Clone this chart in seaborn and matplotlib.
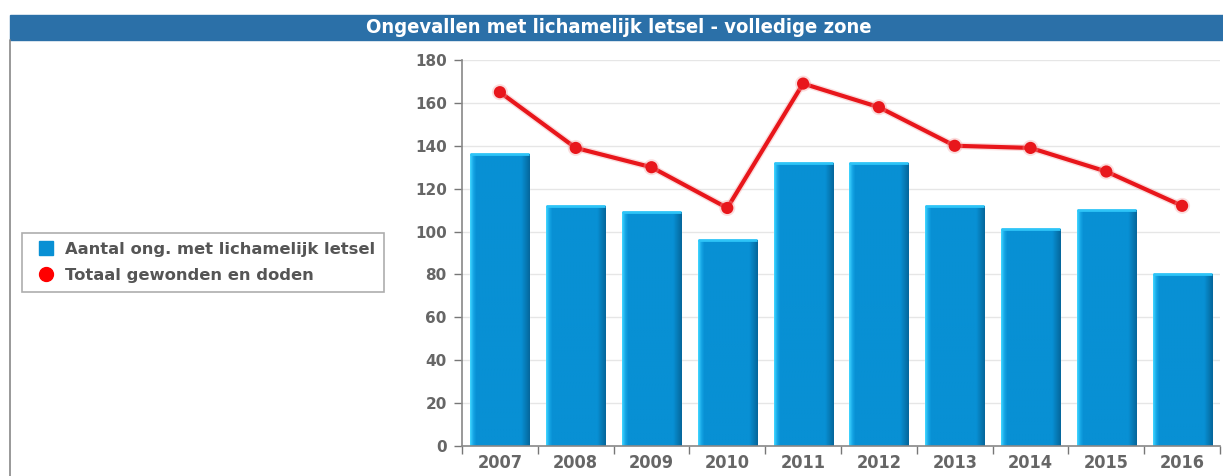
import numpy as np
import matplotlib
matplotlib.use("Agg")
import matplotlib.pyplot as plt
import matplotlib.patheffects as pe
from matplotlib.colors import LinearSegmentedColormap
from matplotlib.patches import Rectangle
from matplotlib.lines import Line2D
import seaborn as sns

# data
years = ['2007', '2008', '2009', '2010', '2011', '2012', '2013', '2014', '2015', '2016']
ongevallen = [136, 112, 109, 96, 132, 132, 112, 101, 110, 80]
gewonden = [165, 139, 130, 111, 169, 158, 140, 139, 128, 112]
title = 'Ongevallen met lichamelijk letsel - volledige zone'
label_bar = 'Aantal ong. met lichamelijk letsel'
label_line = 'Totaal gewonden en doden'

sns.set_style('white')
plt.rcParams['font.family'] = ['DejaVu Sans']

fig = plt.figure(figsize=(12.23, 4.76), dpi=100)
ax = fig.add_axes([462 / 1223, 1 - 446 / 476, (1220 - 462) / 1223, (446 - 60) / 476])

sns.barplot(x=years, y=ongevallen, color='#0890d4', width=0.78, saturation=1, ax=ax, zorder=2)
sns.pointplot(x=years, y=gewonden, color='#e8161b', markers='o', markersize=6.5,
              linewidth=3, ax=ax, zorder=4)
for ln in ax.lines:
    ln.set_path_effects([pe.Stroke(linewidth=5, foreground='#f4a0a0', alpha=0.35), pe.Normal()])

# bar shading: light left edge, darker right edge
cmap = LinearSegmentedColormap.from_list('bar', [(0, '#3fd4ff'), (0.05, '#16a6e6'), (0.1, '#0890d4'),
                                                  (0.86, '#0890d4'), (1, '#05679c')])
grad = np.linspace(0, 1, 100).reshape(1, -1)
for p in list(ax.patches):
    x0, y0 = p.get_x(), p.get_y()
    im = ax.imshow(grad, extent=[x0, x0 + p.get_width(), y0, y0 + p.get_height()],
                   aspect='auto', cmap=cmap, zorder=2.5)
    im.set_clip_path(p)
    ax.plot([x0, x0 + p.get_width()], [y0 + p.get_height()] * 2, color='#2ec4f7', lw=2, zorder=2.6,
            solid_capstyle='butt')

ax.set_xlim(-0.5, 9.5)
ax.set_ylim(0, 180)
ax.set_yticks(range(0, 181, 20))
ax.set_xticks(np.arange(-0.5, 10, 1), minor=False)
ax.set_xticks(range(10), minor=True)
ax.set_xticklabels([])
ax.set_xticklabels(years, minor=True)
ax.tick_params(axis='x', which='major', length=6, width=1, color='#777777', direction='out')
ax.tick_params(axis='x', which='minor', length=0, pad=6, labelsize=13, labelcolor='#666666')
ax.tick_params(axis='y', length=6, width=1, color='#777777', direction='out', pad=5,
               labelsize=11, labelcolor='#666666')
ax.tick_params(left=True, bottom=True, which='both')
ax.tick_params(axis='x', which='minor', bottom=False)
for t in ax.get_yticklabels():
    t.set_fontweight('bold')
for t in ax.get_xticklabels(minor=True):
    t.set_fontweight('bold')
    t.set_fontstretch('condensed')

ax.grid(axis='y', color='#e6e6e6', lw=1, zorder=0)
ax.set_axisbelow(True)
for s in ['top', 'right']:
    ax.spines[s].set_visible(False)
for s in ['left', 'bottom']:
    ax.spines[s].set_color('#888888')
    ax.spines[s].set_linewidth(1.2)
ax.set_xlabel('')
ax.set_ylabel('')

# title bar
fig.patches.append(Rectangle((10 / 1223, 1 - 40 / 476), 1 - 10 / 1223, 25 / 476,
                             transform=fig.transFigure, color='#2b70a8', zorder=0))
fig.text(619 / 1223, 1 - 27.5 / 476, title, color='white', fontsize=14.5, fontweight='bold',
         fontstretch='condensed', ha='center', va='center')
fig.add_artist(Line2D([10.5 / 1223, 10.5 / 1223], [0, 1 - 40 / 476], color='#888888', lw=1.2,
                      transform=fig.transFigure))

handles = [Line2D([], [], ls='none', marker='s', markersize=9.5, color='#0890d4'),
           Line2D([], [], ls='none', marker='o', markersize=10, color='#ff0000')]
leg = fig.legend(handles, [label_bar, label_line], loc='upper left',
                 bbox_to_anchor=(22 / 1223, 1 - 233 / 476), frameon=True, fancybox=False,
                 edgecolor='#999999', borderaxespad=0, handletextpad=0.26, handlelength=1.8,
                 borderpad=0.55, prop={'weight': 'bold', 'size': 11.8}, labelspacing=0.65)
leg.get_frame().set_linewidth(1.2)
for t in leg.get_texts():
    t.set_color('#555555')

fig.savefig('out.png', dpi=100)
